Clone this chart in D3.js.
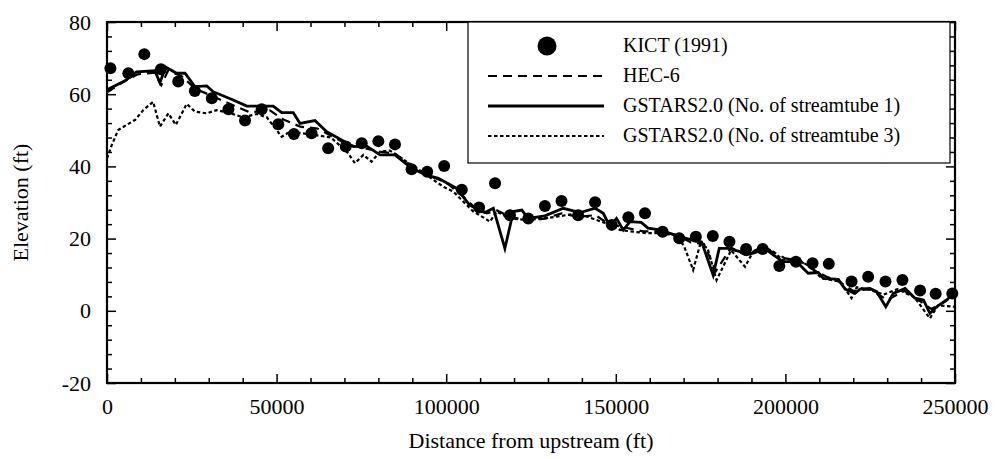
<!DOCTYPE html>
<html>
<head>
<meta charset="utf-8">
<script src="https://cdn.jsdelivr.net/npm/d3@7"></script>
<style>
  body { margin: 0; background: #fff; }
</style>
</head>
<body>
<svg id="chart" width="1000" height="459"></svg>
<script>
const FONT = "'Liberation Serif', 'Times New Roman', Times, 'DejaVu Serif', serif";

// KICT (1991) measured bed elevations
const kictX = [1000, 6300, 11000, 15900, 21000, 25900, 30900, 35800, 40700, 45600,
  50500, 55100, 60300, 65200, 70400, 75100, 80000, 84900, 89800, 94400,
  99400, 104600, 109700, 114400, 118800, 124200, 129100, 134000, 138900, 143900,
  148800, 153700, 158600, 163800, 168700, 173600, 178600, 183500, 188400, 193300,
  198200, 203100, 208000, 212800, 219500, 224400, 229500, 234500, 239700, 244300, 249200];
const kictY = [67.2, 65.8, 71.1, 66.9, 63.5, 60.9, 58.9, 55.8, 52.7, 55.8,
  51.7, 49.0, 49.2, 45.0, 45.5, 46.4, 47.0, 46.1, 39.2, 38.5,
  40.1, 33.5, 28.6, 35.3, 26.5, 25.6, 29.0, 30.4, 26.5, 30.1,
  23.8, 25.9, 27.0, 21.9, 20.1, 20.5, 20.7, 19.1, 17.1, 17.1,
  12.4, 13.6, 13.2, 13.0, 8.1, 9.4, 8.1, 8.5, 5.6, 4.7, 4.8];

// HEC-6
const hecX = [0, 5000, 9000, 14000, 16000, 18000, 22000, 26000, 31000, 37000,
  42000, 48000, 52000, 57000, 62000, 66000, 71000, 76000, 81000, 85000,
  90000, 95000, 100000, 104000, 108000, 112000, 115000, 119000, 124000, 129000,
  134000, 139000, 144000, 148000, 153000, 158000, 163000, 168000, 172000, 176000,
  179500, 184000, 188000, 193000, 197000, 200000, 204000, 208000, 212000, 216000,
  220000, 225000, 230000, 235000, 240000, 243000, 247000, 250000];
const hecY = [60.5, 63.5, 65.5, 66.0, 62.5, 66.5, 65.0, 61.5, 59.5, 57.0,
  55.0, 55.5, 53.0, 51.0, 50.5, 48.5, 46.0, 45.0, 44.0, 43.5,
  40.0, 37.5, 35.5, 32.5, 29.0, 27.0, 27.8, 26.0, 25.0, 25.5,
  27.0, 26.0, 26.5, 24.0, 23.0, 22.0, 22.0, 21.0, 19.0, 18.5,
  11.0, 17.5, 15.5, 17.5, 16.0, 14.5, 14.0, 11.5, 9.5, 8.0,
  5.5, 6.0, 3.0, 5.5, 2.5, 0.5, 2.5, 4.5];

// GSTARS2.0, 1 streamtube
const gs1X = [0, 5300, 8700, 14100, 15600, 17300, 20500, 23000, 25900, 29400,
  31300, 37200, 41200, 44100, 49000, 51500, 54900, 56900, 61300, 64800,
  70200, 72600, 76100, 80500, 84900, 89800, 94200, 97700, 103100, 106900,
  111400, 113900, 117300, 119800, 122300, 124200, 129100, 134500, 139500, 143900,
  146300, 148300, 150200, 152200, 154200, 157500, 159500, 163000, 168900, 172800,
  175300, 178700, 180500, 183200, 186600, 188600, 191000, 193900, 196400, 199300,
  203300, 206700, 209700, 211200, 215600, 217600, 220500, 222000, 224900, 226900,
  229600, 231800, 235300, 238200, 240700, 242600, 244600, 247500, 250000];
const gs1Y = [61.2, 63.7, 66.2, 66.5, 63.2, 67.5, 65.8, 65.8, 62.1, 62.3,
  60.7, 58.4, 56.7, 56.7, 56.7, 54.9, 54.9, 51.9, 52.7, 49.6,
  46.8, 45.5, 45.9, 43.2, 43.2, 39.5, 37.6, 36.7, 33.9, 29.3,
  27.2, 28.4, 17.3, 27.5, 27.9, 25.6, 26.3, 28.4, 27.2, 28.4,
  27.0, 23.3, 25.6, 22.4, 24.7, 24.5, 22.9, 22.4, 20.5, 19.6,
  19.1, 9.9, 17.3, 17.3, 16.4, 15.5, 16.1, 17.3, 15.5, 13.6,
  13.6, 10.4, 10.6, 9.0, 8.7, 6.0, 4.8, 6.0, 6.2, 5.3,
  1.1, 4.8, 6.2, 3.5, 3.0, -0.7, 1.1, 3.0, 5.0];

// GSTARS2.0, 3 streamtubes
const gs3X = [0, 1400, 3300, 5800, 8300, 10700, 13600, 15600, 18100, 20300,
  23500, 25900, 29400, 32300, 35800, 40200, 44100, 47100, 51500, 53900,
  61300, 66000, 70700, 73100, 75600, 78000, 80500, 83400, 89800, 94200,
  99100, 102100, 108000, 111400, 112900, 114900, 118800, 124200, 129100, 134000,
  138900, 143900, 148300, 151200, 155200, 159100, 163000, 167000, 170000, 172800,
  174800, 177000, 179700, 184000, 188100, 190500, 193400, 196400, 199300, 203300,
  207200, 210700, 216100, 219500, 221000, 224900, 229000, 233000, 238000, 242600,
  245000, 250000];
const gs3Y = [42.2, 45.9, 50.1, 51.5, 52.9, 55.6, 57.9, 51.0, 54.7, 51.5,
  57.3, 55.2, 54.7, 55.6, 54.9, 53.6, 54.5, 53.6, 48.2, 49.6,
  48.7, 48.0, 44.1, 40.9, 43.2, 41.3, 44.1, 44.4, 40.4, 37.6,
  34.4, 33.0, 27.5, 25.6, 24.7, 27.5, 25.5, 25.2, 25.6, 26.3,
  27.0, 25.3, 23.8, 22.4, 21.9, 21.5, 21.5, 21.0, 18.2, 11.3,
  18.2, 17.5, 8.5, 16.8, 12.2, 16.4, 17.8, 16.4, 14.1, 14.5,
  12.2, 9.0, 8.1, 3.5, 6.5, 5.8, 4.5, 6.0, 3.8, -2.1,
  1.5, 1.1];

const xMajor = [0, 50000, 100000, 150000, 200000, 250000];
const yMajor = [-20, 0, 20, 40, 60, 80];

const legendLabels = ["KICT (1991)", "HEC-6", "GSTARS2.0 (No. of streamtube 1)", "GSTARS2.0 (No. of streamtube 3)"];

const margin = { top: 22, right: 45, bottom: 76, left: 107 };
const W = 1000, H = 459;
const w = W - margin.left - margin.right;
const h = H - margin.top - margin.bottom;

const svg = d3.select("#chart");
const g = svg.append("g").attr("transform", `translate(${margin.left},${margin.top})`);

const x = d3.scaleLinear().domain([0, 250000]).range([0, w]);
const y = d3.scaleLinear().domain([-20, 80]).range([h, 0]);

const xMinor = d3.range(0, 250001, 10000).filter((v) => v % 50000 !== 0);
const yMinor = d3.range(-20, 81, 4).filter((v) => v % 20 !== 0);

// ticks point inward on all four sides
function styleAxis(sel) {
  sel.attr("font-family", null);
  sel.select(".domain").remove();
  sel.selectAll(".tick line").attr("stroke", "#000").attr("stroke-width", 1.5);
  sel.selectAll(".tick text").style("font-family", FONT).attr("font-size", 22).attr("fill", "#000");
}

g.append("g").attr("transform", `translate(0,${h})`)
  .call(d3.axisBottom(x).tickValues(xMajor).tickSize(-9).tickPadding(15).tickFormat((d) => String(d)))
  .call(styleAxis);
g.append("g").attr("transform", `translate(0,${h})`)
  .call(d3.axisBottom(x).tickValues(xMinor).tickSize(-5).tickFormat(""))
  .call(styleAxis);
g.append("g")
  .call(d3.axisTop(x).tickValues(xMajor).tickSize(-9).tickFormat(""))
  .call(styleAxis);
g.append("g")
  .call(d3.axisTop(x).tickValues(xMinor).tickSize(-5).tickFormat(""))
  .call(styleAxis);

// plain hyphen for "-20", like the original
g.append("g")
  .call(d3.axisLeft(y).tickValues(yMajor).tickSize(-9).tickPadding(16).tickFormat((d) => String(d)))
  .call(styleAxis);
g.append("g")
  .call(d3.axisLeft(y).tickValues(yMinor).tickSize(-5).tickFormat(""))
  .call(styleAxis);
g.append("g").attr("transform", `translate(${w},0)`)
  .call(d3.axisRight(y).tickValues(yMajor).tickSize(-9).tickFormat(""))
  .call(styleAxis);
g.append("g").attr("transform", `translate(${w},0)`)
  .call(d3.axisRight(y).tickValues(yMinor).tickSize(-5).tickFormat(""))
  .call(styleAxis);

// series
const line = d3.line().x((d) => x(d[0])).y((d) => y(d[1]));
const zip = (xs, ys) => xs.map((v, i) => [v, ys[i]]);

g.append("path").datum(zip(gs3X, gs3Y)).attr("d", line)
  .attr("fill", "none").attr("stroke", "#000").attr("stroke-width", 2.2)
  .attr("stroke-dasharray", "3.5,2.5");
g.append("path").datum(zip(hecX, hecY)).attr("d", line)
  .attr("fill", "none").attr("stroke", "#000").attr("stroke-width", 2.2)
  .attr("stroke-dasharray", "9,6");
g.append("path").datum(zip(gs1X, gs1Y)).attr("d", line)
  .attr("fill", "none").attr("stroke", "#000").attr("stroke-width", 2.8);

g.selectAll("circle.kict").data(zip(kictX, kictY)).join("circle")
  .attr("class", "kict")
  .attr("cx", (d) => x(d[0])).attr("cy", (d) => y(d[1]))
  .attr("r", 6).attr("fill", "#000");

// frame
g.append("rect").attr("width", w).attr("height", h)
  .attr("fill", "none").attr("stroke", "#000").attr("stroke-width", 2.2);

// legend box
const lg = svg.append("g").attr("transform", "translate(468,22)");
lg.append("rect").attr("width", 482).attr("height", 141)
  .attr("fill", "#fff").attr("stroke", "#000").attr("stroke-width", 1.2);
const rowY = [24, 54, 84, 114];
lg.append("circle").attr("cx", 79).attr("cy", rowY[0]).attr("r", 9.5).attr("fill", "#000");
lg.append("line").attr("x1", 20).attr("x2", 136).attr("y1", rowY[1]).attr("y2", rowY[1])
  .attr("stroke", "#000").attr("stroke-width", 2.2).attr("stroke-dasharray", "9,6");
lg.append("line").attr("x1", 20).attr("x2", 136).attr("y1", rowY[2]).attr("y2", rowY[2])
  .attr("stroke", "#000").attr("stroke-width", 2.8);
lg.append("line").attr("x1", 20).attr("x2", 136).attr("y1", rowY[3]).attr("y2", rowY[3])
  .attr("stroke", "#000").attr("stroke-width", 2.2).attr("stroke-dasharray", "3.5,2.5");
lg.selectAll("text").data(legendLabels).join("text")
  .attr("x", 155).attr("y", (d, i) => rowY[i] + 6)
  .style("font-family", FONT).attr("font-size", 20).text((d) => d);

// axis titles
svg.append("text").attr("x", margin.left + w / 2).attr("y", 448)
  .attr("text-anchor", "middle").style("font-family", FONT).attr("font-size", 22)
  .text("Distance from upstream (ft)");
svg.append("text").attr("transform", `translate(28,${margin.top + h / 2}) rotate(-90)`)
  .attr("text-anchor", "middle").style("font-family", FONT).attr("font-size", 22)
  .text("Elevation (ft)");
</script>
</body>
</html>
